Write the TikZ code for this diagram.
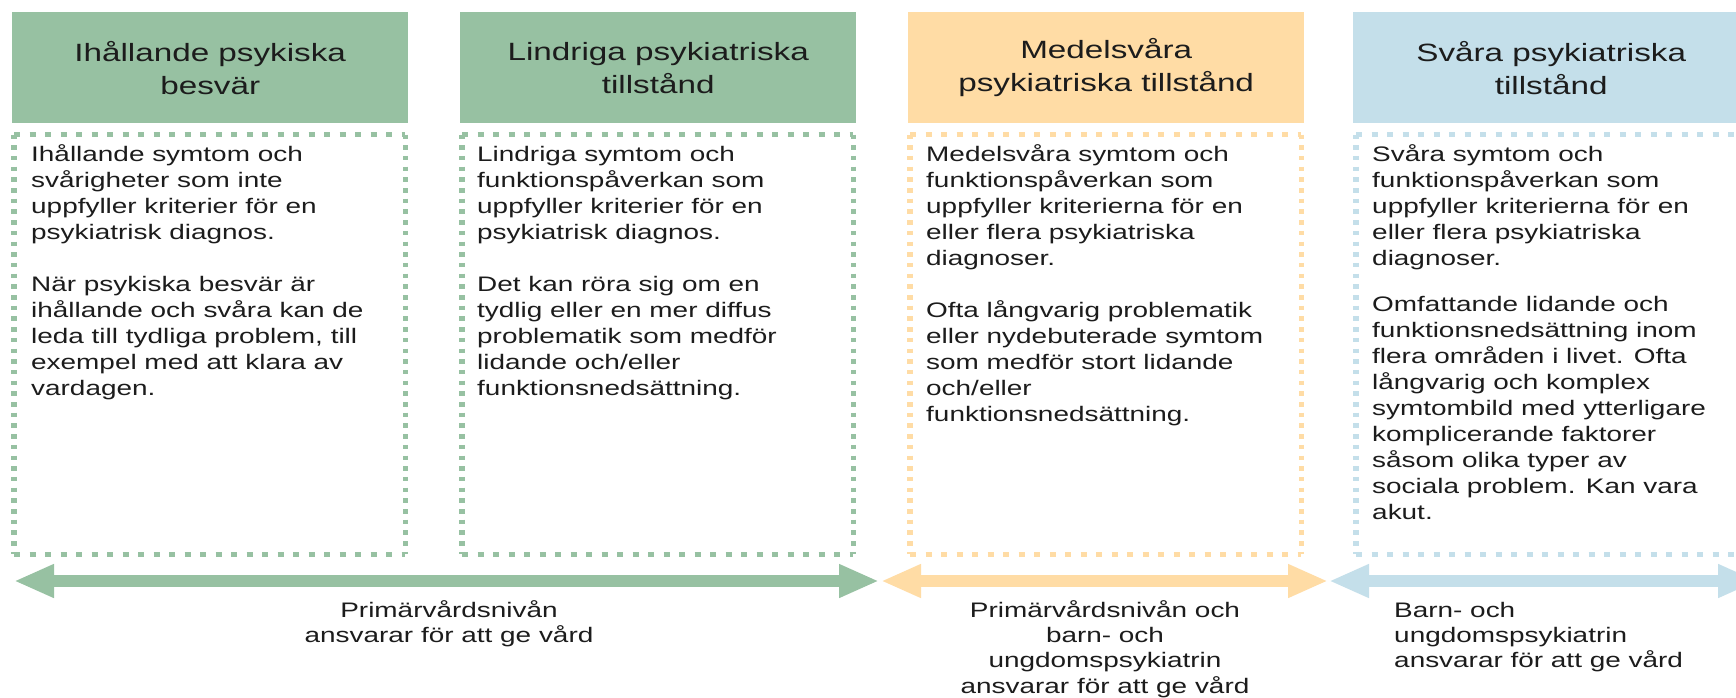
\documentclass[tikz,border=0pt]{standalone}
\usepackage{fontspec}
\setmainfont{Liberation Sans}[FakeStretch=1.33]
\usetikzlibrary{arrows.meta}
\definecolor{cgreen}{HTML}{97C1A2}
\definecolor{corange}{HTML}{FFDCA5}
\definecolor{cblue}{HTML}{C4DFEA}
\definecolor{ctext}{HTML}{1C1C1C}
\newcommand{\fl}{\rule{0pt}{20pt}}
\begin{document}
\begin{tikzpicture}[x=1pt,y=-1pt,
  headbox/.style={anchor=north west, minimum width=396pt, minimum height=111pt, inner sep=0pt, align=center, font=\fontsize{25}{33}\selectfont, text=ctext},
  dotframe/.style={anchor=north west, minimum width=391pt, minimum height=419.5pt, inner sep=0pt},
  hdots/.style={line width=4.5pt, dash pattern=on 6pt off 9.5pt},
  vdots/.style={line width=5.5pt, dash pattern=on 4.5pt off 6.2pt},
  bodytxt/.style={anchor=north west, inner sep=0pt, align=left, font=\fontsize{21}{26}\selectfont, text=ctext},
  lbl/.style={anchor=north, inner sep=0pt, font=\fontsize{21}{25.3}\selectfont, text=ctext},
  dbl/.style={line width=11.7pt, {Triangle[length=40pt,width=31pt]}-{Triangle[length=40pt,width=31pt]}},
]
\useasboundingbox[fill=white] (0,0) rectangle (1736,698);

% headers
\node[headbox, fill=cgreen]  (h1) at (12,12)   {Ihållande psykiska\\besvär};
\node[headbox, fill=cgreen]  (h2) at (460,12)  {Lindriga psykiatriska\\tillstånd};
\node[headbox, fill=corange] (h3) at (908,12)  {Medelsvåra\\psykiatriska tillstånd};
\node[headbox, fill=cblue]   (h4) at (1353,12) {Svåra psykiatriska\\tillstånd};

% dotted frames
\node[dotframe] (f1) at (14,134.5) {};
\node[dotframe] (f2) at (462,134.5) {};
\node[dotframe] (f3) at (910,134.5) {};
\node[dotframe] (f4) at (1356,134.5) {};
\foreach \f/\c in {f1/cgreen,f2/cgreen,f3/corange,f4/cblue}{
  \draw[hdots,\c] (\f.north west) -- (\f.north east);
  \draw[hdots,\c] (\f.south west) -- (\f.south east);
  \draw[vdots,\c] (\f.north west) -- (\f.south west);
  \draw[vdots,\c] (\f.north east) -- (\f.south east);
}

% body texts
\node[bodytxt] (t1) at (31,141) {\fl Ihållande symtom och\\svårigheter som inte\\uppfyller kriterier för en\\psykiatrisk diagnos.\\[26pt]När psykiska besvär är\\ihållande och svåra kan de\\leda till tydliga problem, till\\exempel med att klara av\\vardagen.};
\node[bodytxt] (t2) at (477,141) {\fl Lindriga symtom och\\funktionspåverkan som\\uppfyller kriterier för en\\psykiatrisk diagnos.\\[26pt]Det kan röra sig om en\\tydlig eller en mer diffus\\problematik som medför\\lidande och/eller\\funktionsnedsättning.};
\node[bodytxt] (t3) at (926,141) {\fl Medelsvåra symtom och\\funktionspåverkan som\\uppfyller kriterierna för en\\eller flera psykiatriska\\diagnoser.\\[26pt]Ofta långvarig problematik\\eller nydebuterade symtom\\som medför stort lidande\\och/eller\\funktionsnedsättning.};
\node[bodytxt] (t4) at (1372,141) {\fl Svåra symtom och\\funktionspåverkan som\\uppfyller kriterierna för en\\eller flera psykiatriska\\diagnoser.\\[20pt]Omfattande lidande och\\funktionsnedsättning inom\\flera områden i livet. Ofta\\långvarig och komplex\\symtombild med ytterligare\\komplicerande faktorer\\såsom olika typer av\\sociala problem. Kan vara\\akut.};

% arrows
\coordinate (gL) at (14,581);   \coordinate (gR) at (879,581);
\coordinate (oL) at (881,581);  \coordinate (oR) at (1328,581);
\coordinate (bL) at (1329,581); \coordinate (bR) at (1758,581);
\draw[dbl,cgreen]  (gL) -- (gR);
\draw[dbl,corange] (oL) -- (oR);
\draw[dbl,cblue]   (bL) -- (bR);

% labels
\node[lbl, align=center] (l1) at (449,597) {\fl Primärvårdsnivån\\ansvarar för att ge vård};
\node[lbl, align=center] (l2) at (1105,597) {\fl Primärvårdsnivån och\\barn- och\\ungdomspsykiatrin\\ansvarar för att ge vård};
\node[lbl, align=left, anchor=north west] (l3) at (1394,597) {\fl Barn- och\\ungdomspsykiatrin\\ansvarar för att ge vård};
\end{tikzpicture}
\end{document}
